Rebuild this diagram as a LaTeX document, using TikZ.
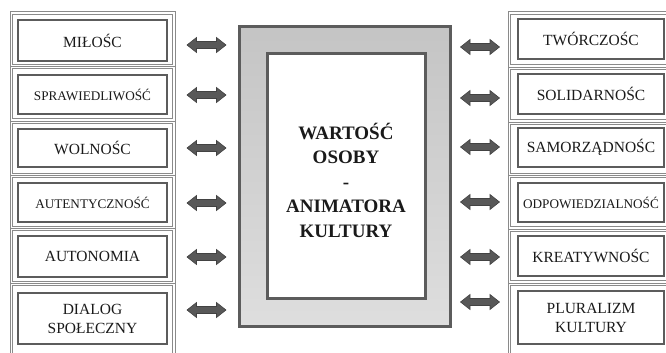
\documentclass[tikz,border=0pt]{standalone}
\usepackage{fontspec}
\setmainfont{Liberation Serif}
\definecolor{frm}{HTML}{8A8A8A}
\definecolor{bx}{HTML}{5C5C5C}
\definecolor{arr}{HTML}{585858}
\definecolor{txt}{HTML}{1A1A1A}
\tikzset{
  cell/.style={draw=frm, line width=1pt},
  ibox/.style={draw=bx, line width=2.4pt, fill=white, inner sep=1pt, align=center,
    text=txt, font=\fontsize{15.5}{19}\selectfont},
  sm/.style={font=\fontsize{13.2}{15}\selectfont},
  dar/.style={draw=arr!75!black, fill=arr, line width=0.6pt, line join=miter},
}
\begin{document}
\begin{tikzpicture}[x=1pt,y=1pt]
\useasboundingbox (0,-353) rectangle (666,0);
\clip (0,-353) rectangle (666,0);
% left cells (double frame)
\foreach \a/\b in {12/66.5,66.5/121,121/175.5,175.5/228.5,228.5/283.5,283.5/365}{
  \draw[cell] (10,-\a) rectangle (175,-\b);
  \draw[cell] (12.2,-\a-2.2) rectangle (172.8,-\b+2.2);
}
% right cells (double frame)
\foreach \a/\b in {12/67,67/122,122/175.5,175.5/229,229/283,283/365}{
  \draw[cell] (508,-\a) rectangle (690,-\b);
  \draw[cell] (510.2,-\a-2.2) rectangle (687.8,-\b+2.2);
}
% left boxes
\node[ibox, minimum width=149pt, minimum height=41pt] (l1) at (92.5,-40.5) {MIŁOŚC};
\node[ibox, sm, minimum width=149pt, minimum height=39pt] (l2) at (92.5,-94.5) {SPRAWIEDLIWOŚĆ};
\node[ibox, minimum width=149pt, minimum height=38pt] (l3) at (92.5,-148) {WOLNOŚC};
\node[ibox, sm, minimum width=149pt, minimum height=39pt] (l4) at (92.5,-202.5) {AUTENTYCZNOŚĆ};
\node[ibox, minimum width=149pt, minimum height=41pt] (l5) at (92.5,-256.5) {AUTONOMIA};
\node[ibox, minimum width=149pt, minimum height=51pt] (l6) at (92.5,-318.5) {DIALOG\\SPOŁECZNY};
% right boxes
\node[ibox, minimum width=146pt, minimum height=40pt] (r1) at (591,-39) {TWÓRCZOŚC};
\node[ibox, minimum width=146pt, minimum height=40pt] (r2) at (591,-94) {SOLIDARNOŚC};
\node[ibox, minimum width=146pt, minimum height=39pt] (r3) at (591,-147.5) {SAMORZĄDNOŚC};
\node[ibox, sm, minimum width=146pt, minimum height=39pt] (r4) at (591,-202.5) {ODPOWIEDZIALNOŚĆ};
\node[ibox, minimum width=146pt, minimum height=40pt] (r5) at (591,-256) {KREATYWNOŚC};
\node[ibox, minimum width=146pt, minimum height=53pt] (r6) at (591,-317.5) {PLURALIZM\\KULTURY};
% centre
\node[draw=bx, line width=3pt, minimum width=211pt, minimum height=300pt,
  top color=black!23, bottom color=black!13] (outer) at (345,-176.5) {};
\node[draw=bx, line width=3pt, fill=white, minimum width=158pt, minimum height=245pt] (inner) at (346.5,-176) {};
\node[font=\bfseries\fontsize{19}{24.5}\selectfont, align=center, text=txt] (title) at (346,-180)
  {WARTOŚĆ\\OSOBY\\-\\ANIMATORA\\KULTURY};
% double block arrows
\foreach \x/\y in {206.5/45,206.5/95,206.5/148,206.5/203,206.5/257,206.5/310,
                   480/47,480/98,480/147,480/202,480/257,480/302}
  \draw[dar, shift={(\x,-\y)}] (-19.5,0) -- (-10,7.5) -- (-10,3.5) -- (10,3.5) -- (10,7.5)
     -- (19.5,0) -- (10,-7.5) -- (10,-3.5) -- (-10,-3.5) -- (-10,-7.5) -- cycle;
\end{tikzpicture}
\end{document}
